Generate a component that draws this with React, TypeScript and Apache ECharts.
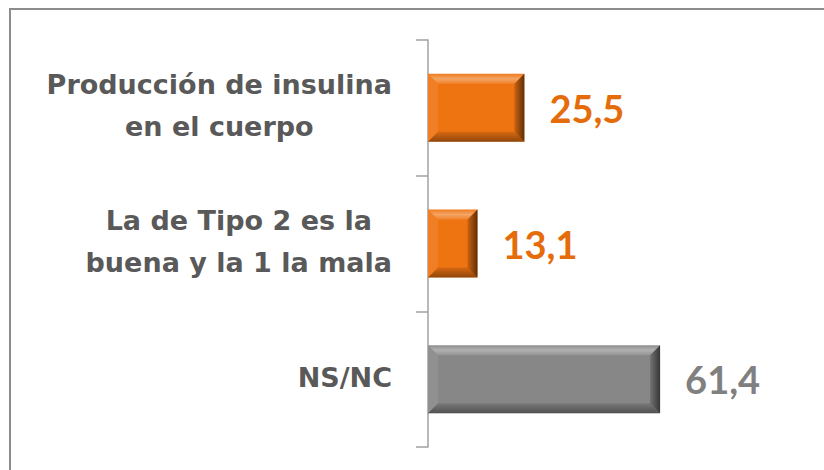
import React, { useEffect, useRef } from "react";
import * as echarts from "echarts";

const categories: string[] = [
  "Producción de insulina\nen el cuerpo",
  "La de Tipo 2 es la\nbuena y la 1 la mala",
  "NS/NC",
];
const values: number[] = [25.5, 13.1, 61.4];
const barColors: string[] = ["#EE7412", "#EE7412", "#878787"];
const labelColors: string[] = ["#E46C0A", "#E46C0A", "#808080"];

const CAT_FONT = "'DejaVu Sans', sans-serif";
const VAL_FONT = "Lato, 'Open Sans', sans-serif";
const BAR_H = 68;

export default function App() {
  const ref = useRef<HTMLDivElement>(null);
  useEffect(() => {
    if (!ref.current) return;
    const chart = echarts.init(ref.current, null, { renderer: "svg" });
    const rich: Record<string, any> = {};
    categories.forEach((_, i) => {
      rich["c" + i] = {
        align: "center",
        fontFamily: CAT_FONT,
        fontWeight: "bold",
        fontSize: 27,
        lineHeight: 42,
        color: "#595959",
      };
    });
    chart.setOption({
      animation: false,
      backgroundColor: "#ffffff",
      grid: { left: 428, right: 18, top: 40, bottom: 23 },
      xAxis: {
        type: "value",
        min: 0,
        max: 100,
        show: false,
      },
      yAxis: {
        type: "category",
        data: categories,
        inverse: true,
        axisLine: { show: true, lineStyle: { color: "#A0A0A0", width: 1.5 } },
        axisTick: { show: true, length: 12, lineStyle: { color: "#A0A0A0", width: 1.5 } },
        axisLabel: {
          margin: 36,
          padding: [0, 0, 4, 0],
          formatter: (v: string) => {
            const idx = categories.indexOf(v);
            return v
              .split("\n")
              .map((l) => `{c${idx}|${l}}`)
              .join("\n");
          },
          rich,
        },
        splitLine: { show: false },
      },
      graphic: [
        {
          type: "rect",
          shape: { x: 10, y: 9, width: 900, height: 600 },
          style: { fill: "none", stroke: "#8C8C8C", lineWidth: 2 },
          silent: true,
          z: 100,
        },
      ],
      series: [
        {
          type: "bar",
          data: values.map((v, i) => ({
            value: v,
            itemStyle: { color: barColors[i] },
            label: { color: labelColors[i] },
          })),
          barWidth: BAR_H,
          label: {
            show: true,
            position: "right",
            distance: 25,
            fontFamily: VAL_FONT,
            fontWeight: "bold",
            fontSize: 38,
            formatter: (p: any) => String(p.value).replace(".", ","),
          },
        },
        {
          type: "custom",
          data: values.map((v, i) => [v, i]),
          encode: { x: 0, y: 1 },
          silent: true,
          z: 3,
          renderItem: (params: any, api: any) => {
            const end = api.coord([api.value(0), api.value(1)]);
            const start = api.coord([0, api.value(1)]);
            const x0 = start[0];
            const x1 = end[0];
            const y0 = end[1] - BAR_H / 2;
            const y1 = end[1] + BAR_H / 2;
            const b = 10;
            return {
              type: "group",
              children: [
                {
                  type: "polygon",
                  shape: { points: [[x0, y0], [x1, y0], [x1 - b, y0 + b], [x0 + b, y0 + b]] },
                  style: {
                    fill: new echarts.graphic.LinearGradient(0, 0, 0, 1, [
                      { offset: 0, color: "rgba(255,255,255,0.05)" },
                      { offset: 0.5, color: "rgba(255,255,255,0.35)" },
                      { offset: 1, color: "rgba(255,255,255,0.1)" },
                    ]),
                  },
                },
                {
                  type: "polygon",
                  shape: { points: [[x0, y1], [x1, y1], [x1 - b, y1 - b], [x0 + b, y1 - b]] },
                  style: {
                    fill: new echarts.graphic.LinearGradient(0, 0, 0, 1, [
                      { offset: 0, color: "rgba(0,0,0,0.1)" },
                      { offset: 1, color: "rgba(0,0,0,0.4)" },
                    ]),
                  },
                },
                {
                  type: "polygon",
                  shape: { points: [[x0, y0], [x0 + b, y0 + b], [x0 + b, y1 - b], [x0, y1]] },
                  style: { fill: "rgba(255,255,255,0.08)" },
                },
                {
                  type: "polygon",
                  shape: { points: [[x1, y0], [x1, y1], [x1 - b, y1 - b], [x1 - b, y0 + b]] },
                  style: {
                    fill: new echarts.graphic.LinearGradient(0, 0, 1, 0, [
                      { offset: 0, color: "rgba(0,0,0,0.15)" },
                      { offset: 1, color: "rgba(0,0,0,0.6)" },
                    ]),
                  },
                },
              ],
            };
          },
        },
      ],
    });
    return () => chart.dispose();
  }, []);
  return (
    <div
      ref={ref}
      style={{ position: "absolute", left: 0, top: 0, width: 824, height: 470 }}
    />
  );
}
